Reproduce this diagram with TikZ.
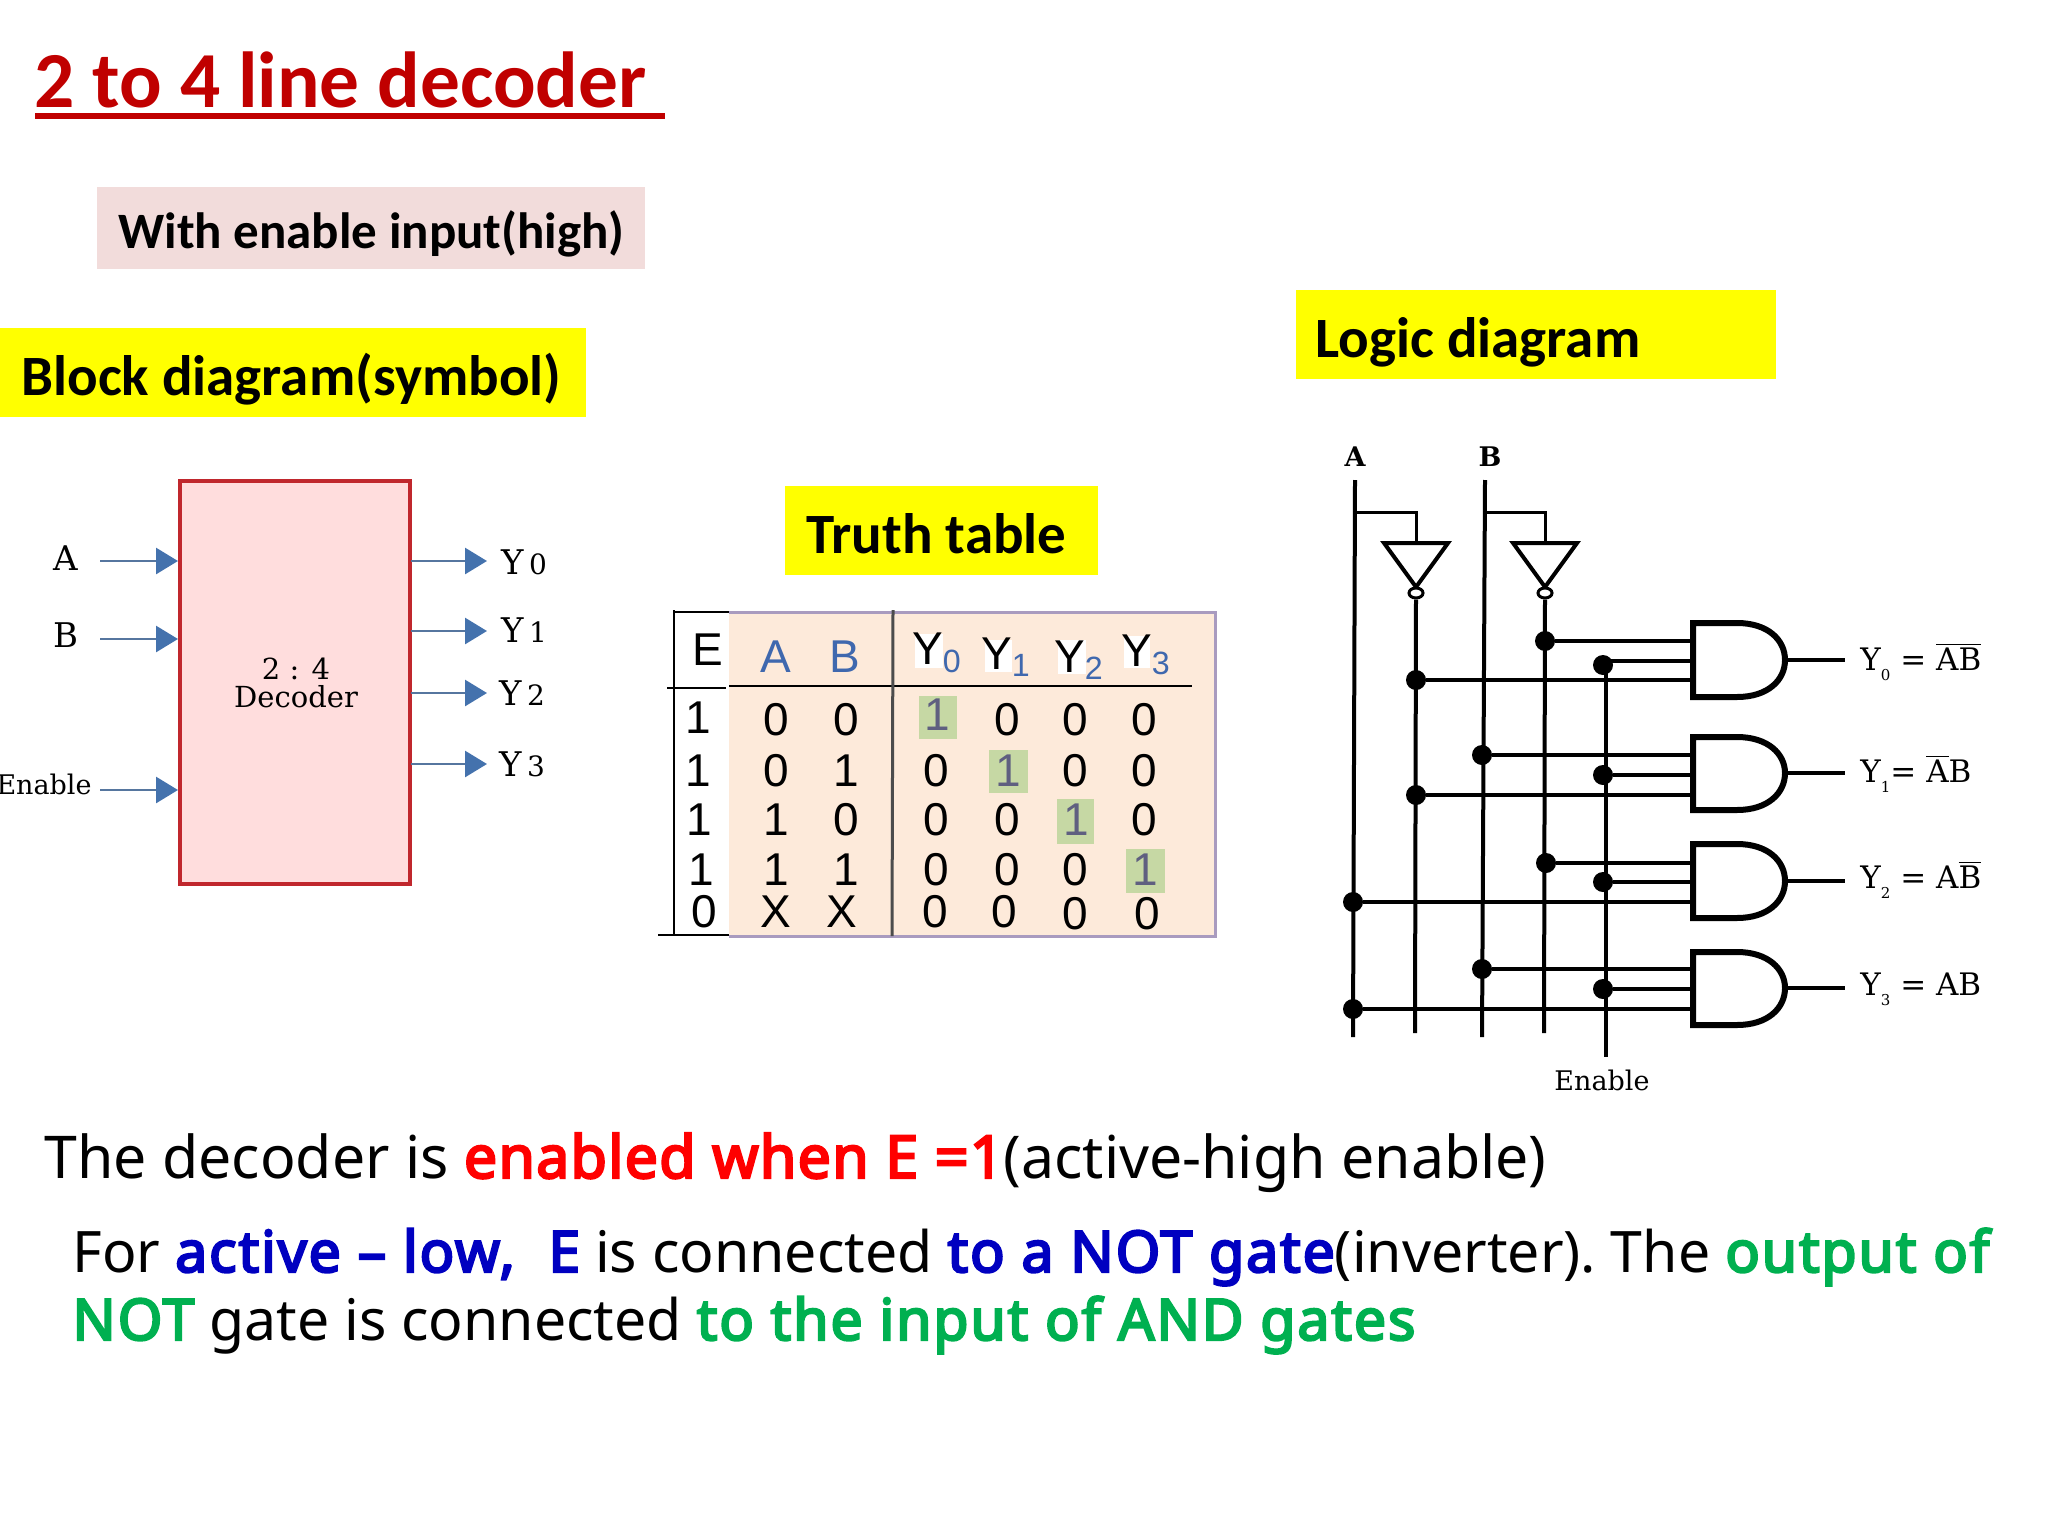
\documentclass[tikz,border=0pt]{standalone}
\usepackage{fontspec}
\setmainfont{Carlito}
\newfontfamily\bodyfont[BoldFont={Noto Sans},BoldFeatures={FakeBold=4,LetterSpace=2.2}]{Noto Sans}
\newfontfamily\notefont[BoldFont={Noto Sans},BoldFeatures={FakeBold=4,LetterSpace=3.3}]{Noto Sans}
\newfontfamily\tablefont{Liberation Sans}
\newfontfamily\schemfont{DejaVu Serif}
\usetikzlibrary{arrows.meta}
\usetikzlibrary{shapes.geometric}
\definecolor{titlered}{HTML}{C00000}
\definecolor{boxpink}{HTML}{F2DCDB}
\definecolor{capyellow}{HTML}{FFFF00}
\definecolor{blockfill}{HTML}{FFDDDD}
\definecolor{blockline}{HTML}{C0272D}
\definecolor{arrowblue}{HTML}{4472AD}
\definecolor{panelfill}{HTML}{FDEADA}
\definecolor{panelline}{HTML}{A99BBF}
\definecolor{hlgreen}{HTML}{C6D8A4}
\definecolor{headblue}{HTML}{3F68AE}
\definecolor{onegray}{HTML}{5F5F80}
\definecolor{textred}{HTML}{FF0000}
\definecolor{textblue}{HTML}{0000C0}
\definecolor{textgreen}{HTML}{00B050}
\tikzset{
	headtext/.style={anchor=base west,inner sep=0pt,font=\bfseries\fontsize{28.5}{34}\selectfont},
	bodytext/.style={anchor=base west,inner sep=0pt,font=\notefont\frenchspacing\fontsize{28.6}{36}\selectfont},
	schem/.style={inner sep=0pt,font=\schemfont\fontsize{13.5}{16}\selectfont},
	bigschem/.style={schem,font=\schemfont\fontsize{17}{20}\selectfont},
	eqn/.style={inner sep=0pt,anchor=base west,font=\schemfont\fontsize{15.5}{18}\selectfont},
	flow/.style={line width=1.4pt,color=arrowblue!70!gray,-{Triangle[length=11pt,width=13pt,color=arrowblue]}},
	cell/.style={inner sep=0pt,font=\tablefont\fontsize{23}{28}\selectfont},
	onecell/.style={cell,text=onegray},
	headcell/.style={cell,text=headblue},
	wire/.style={line width=2pt,line cap=butt},
	gatebody/.style={line width=3pt,line join=miter},
	dot/.style={circle,fill=black,inner sep=0pt,minimum size=10pt},
	bubble/.style={ellipse,draw=black,fill=white,line width=1.5pt,inner sep=0pt,minimum width=7pt,minimum height=5pt}
}
\begin{document}
\begin{tikzpicture}[x=0.5pt,y=-0.5pt]
	\useasboundingbox (0,0) rectangle (2048,1536);
	%title and captions
	\node[anchor=base west,inner sep=0pt,text=titlered,font=\bfseries\fontsize{39.7}{48}\selectfont] (title) at (34,108) {2 to 4 line decoder};
	\coordinate (ulstart) at (35,116);
	\coordinate (ulend) at (665,116);
	\draw[titlered,line width=2.5pt] (ulstart) -- (ulend);
	\fill[boxpink] (97,187) rectangle (645,269);
	\node[headtext,font=\bfseries\fontsize{25.5}{32}\selectfont] (withenable) at (118,248) {With enable input(high)};
	\fill[capyellow] (0,328) rectangle (586,417);
	\node[headtext] (blockcap) at (21,395) {Block diagram(symbol)};
	\fill[capyellow] (785,486) rectangle (1098,575);
	\node[headtext] (tablecap) at (806,553) {Truth table};
	\fill[capyellow] (1296,290) rectangle (1776,379);
	\node[headtext] (logiccap) at (1315,357) {Logic diagram};

	%block diagram
	\node[draw=blockline,fill=blockfill,line width=2.2pt,minimum width=115pt,minimum height=201.5pt,inner sep=0pt] (decoder) at (295,682.5) {};
	\node[schem,align=center,font=\schemfont\fontsize{14.5}{16}\selectfont] (decodertext) at (296,683) {2 : 4\\[-2pt]Decoder};
	\node[bigschem] (inA) at (66,558) {A};
	\node[bigschem] (inB) at (66,635) {B};
	\node[schem,anchor=east] (inE) at (92,784) {Enable};
	\node[bigschem] (outY0) at (524,562) {Y\,{\fontsize{14}{16}\selectfont 0}};
	\node[bigschem] (outY1) at (524,630) {Y\,{\fontsize{14}{16}\selectfont 1}};
	\node[bigschem] (outY2) at (522,693) {Y\,{\fontsize{14}{16}\selectfont 2}};
	\node[bigschem] (outY3) at (522,764) {Y\,{\fontsize{14}{16}\selectfont 3}};
	\draw[flow] (100,561) -- (178,561);
	\draw[flow] (100,639) -- (178,639);
	\draw[flow] (100,790) -- (178,790);
	\draw[flow] (411,561) -- (487,561);
	\draw[flow] (411,631) -- (487,631);
	\draw[flow] (411,693) -- (487,693);
	\draw[flow] (411,764) -- (487,764);

	%truth table
	\fill[panelfill] (729,612) rectangle (1215,936);
	\draw[panelline,line width=1.5pt] (729,612) -- (1215,612) -- (1215,936) -- (729,936);
	\fill[white] (915,634) rectangle (943,668);
	\fill[white] (985,640) rectangle (1012,672);
	\fill[white] (1058,640) rectangle (1086,674);
	\fill[white] (1124,636) rectangle (1150,668);
	\fill[hlgreen] (919,696) rectangle (957,739);
	\fill[hlgreen] (989,750) rectangle (1028,793);
	\fill[hlgreen] (1057,799) rectangle (1094,844);
	\fill[hlgreen] (1126,849) rectangle (1165,893);
	\draw[line width=1.2pt] (674,610) -- (674,935);
	\draw[line width=1.2pt] (674,612) -- (729,612);
	\draw[line width=1.2pt] (667,688) -- (726,688);
	\draw[line width=1.2pt] (658,935) -- (729,935);
	\draw[line width=1.2pt] (729,686) -- (1192,686);
	\draw[black!70,line width=1.5pt] (893,610) -- (892,936);
	\node[cell] (headE) at (708,650) {E};
	\node[headcell] (headA) at (776,657) {A};
	\node[headcell] (headB) at (845,657) {B};
	\node[cell] (headY0) at (937,653) {Y\textsubscript{\textcolor{headblue}{0}}};
	\node[cell] (headY1) at (1006,657) {Y\textsubscript{\textcolor{headblue}{1}}};
	\node[cell] (headY2) at (1079,660) {Y\textsubscript{\textcolor{headblue}{2}}};
	\node[cell] (headY3) at (1146,655) {Y\textsubscript{\textcolor{headblue}{3}}};
	%row 1
	\begin{scope}[shift={(0,718)}]
		\node[cell] (r0e) at (698,0) {1};
		\node[cell] (r0a) at (776,2) {0};
		\node[cell] (r0b) at (846,2) {0};
		\node[onecell] (r0y0) at (937,-3) {1};
		\node[cell] (r0y1) at (1007,2) {0};
		\node[cell] (r0y2) at (1075,2) {0};
		\node[cell] (r0y3) at (1144,2) {0};
	\end{scope}
	%row 2
	\begin{scope}[shift={(0,771)}]
		\node[cell] (r1e) at (698,0) {1};
		\node[cell] (r1a) at (776,0) {0};
		\node[cell] (r1b) at (846,0) {1};
		\node[cell] (r1y0) at (936,0) {0};
		\node[onecell] (r1y1) at (1008,0) {1};
		\node[cell] (r1y2) at (1075,0) {0};
		\node[cell] (r1y3) at (1144,0) {0};
	\end{scope}
	%row 3
	\begin{scope}[shift={(0,820)}]
		\node[cell] (r2e) at (699,0) {1};
		\node[cell] (r2a) at (776,0) {1};
		\node[cell] (r2b) at (846,0) {0};
		\node[cell] (r2y0) at (936,0) {0};
		\node[cell] (r2y1) at (1007,0) {0};
		\node[onecell] (r2y2) at (1076,0) {1};
		\node[cell] (r2y3) at (1144,0) {0};
	\end{scope}
	%row 4
	\begin{scope}[shift={(0,870)}]
		\node[cell] (r3e) at (701,0) {1};
		\node[cell] (r3a) at (776,0) {1};
		\node[cell] (r3b) at (846,0) {1};
		\node[cell] (r3y0) at (936,0) {0};
		\node[cell] (r3y1) at (1007,0) {0};
		\node[cell] (r3y2) at (1075,0) {0};
		\node[onecell] (r3y3) at (1145,0) {1};
	\end{scope}
	%row 5
	\begin{scope}[shift={(0,912)}]
		\node[cell] (r4e) at (704,0) {0};
		\node[cell] (r4a) at (776,0) {X};
		\node[cell] (r4b) at (842,0) {X};
		\node[cell] (r4y0) at (935,0) {0};
		\node[cell] (r4y1) at (1004,0) {0};
		\node[cell] (r4y2) at (1075,2) {0};
		\node[cell] (r4y3) at (1147,2) {0};
	\end{scope}

	%logic diagram inputs
	\node[schem,font=\schemfont\bfseries\fontsize{13.5}{15}\selectfont] (logicA) at (1355,457) {A};
	\node[schem,font=\schemfont\bfseries\fontsize{13.5}{15}\selectfont] (logicB) at (1490,457) {B};
	\node[schem] (logicE) at (1602,1080) {Enable};
	\coordinate (Atop) at (1355,480);
	\coordinate (Abot) at (1353,1037);
	\coordinate (Btop) at (1485,480);
	\coordinate (Bbot) at (1482,1037);
	\coordinate (Ebot) at (1606,1057);
	\coordinate (Nabot) at (1415,1033);
	\coordinate (Nbbot) at (1544,1033);
	\coordinate (Abr) at (1354,512);
	\coordinate (Bbr) at (1485,512);
	\coordinate (Aturn) at (1416,512);
	\coordinate (Bturn) at (1545,512);
	\coordinate (Ain) at (1416,543);
	\coordinate (Bin) at (1545,543);
	\draw[wire] (Atop) -- (Abot);
	\draw[wire] (Btop) -- (Bbot);
	\draw[wire,line width=1.5pt] (Abr) -- (Aturn) -- (Ain);
	\draw[wire,line width=1.5pt] (Bbr) -- (Bturn) -- (Bin);
	%inverters
	\draw[line width=2pt,line join=miter] (1384,543) -- (1448,543) -- (1416,587) -- cycle;
	\draw[line width=2pt,line join=miter] (1513,543) -- (1577,543) -- (1545,587) -- cycle;
	\node[bubble] (Abub) at (1416,593) {};
	\node[bubble] (Bbub) at (1545,593) {};
	\draw[wire] (Abub) -- (Nabot);
	\draw[wire] (Bbub) -- (Nbbot);

	%gate 1
	\draw[gatebody] (1693,623) -- (1737,623) .. controls (1768,623) and (1785,640) .. (1785,660) .. controls (1785,680) and (1768,697) .. (1737,697) -- (1693,697) -- cycle;
	\coordinate (g0a) at (1693,641);
	\coordinate (g0b) at (1693,661);
	\coordinate (g0c) at (1693,680);
	\coordinate (g0in) at (1785,660);
	\coordinate (g0out) at (1845,660);
	\node[dot] (d0a) at (1545,641) {};
	\node[dot] (d0b) at (1603,665) {};
	\node[dot] (d0c) at (1416,680) {};
	\coordinate (d0bw) at (1603,661);
	\coordinate (Etop) at (1606,665);
	\draw[wire] (d0a) -- (g0a);
	\draw[wire] (d0bw) -- (g0b);
	\draw[wire] (d0c) -- (g0c);
	\draw[wire] (g0in) -- (g0out);
	\draw[wire] (Etop) -- (Ebot);
	%gate 2
	\draw[gatebody] (1693,737) -- (1737,737) .. controls (1768,737) and (1785,754) .. (1785,773) .. controls (1785,793) and (1768,810) .. (1737,810) -- (1693,810) -- cycle;
	\coordinate (g1a) at (1693,755);
	\coordinate (g1b) at (1693,775);
	\coordinate (g1c) at (1693,795);
	\coordinate (g1in) at (1785,773);
	\coordinate (g1out) at (1845,773);
	\node[dot] (d1a) at (1482,755) {};
	\node[dot] (d1b) at (1603,775) {};
	\node[dot] (d1c) at (1416,795) {};
	\draw[wire] (d1a) -- (g1a);
	\draw[wire] (d1b) -- (g1b);
	\draw[wire] (d1c) -- (g1c);
	\draw[wire] (g1in) -- (g1out);
	%gate 3
	\draw[gatebody] (1693,844) -- (1737,844) .. controls (1768,844) and (1785,861) .. (1785,881) .. controls (1785,901) and (1768,918) .. (1737,918) -- (1693,918) -- cycle;
	\coordinate (g2a) at (1693,863);
	\coordinate (g2b) at (1693,882);
	\coordinate (g2c) at (1693,902);
	\coordinate (g2in) at (1785,881);
	\coordinate (g2out) at (1845,881);
	\node[dot] (d2a) at (1546,863) {};
	\node[dot] (d2b) at (1603,882) {};
	\node[dot] (d2c) at (1353,902) {};
	\draw[wire] (d2a) -- (g2a);
	\draw[wire] (d2b) -- (g2b);
	\draw[wire] (d2c) -- (g2c);
	\draw[wire] (g2in) -- (g2out);
	%gate 4
	\draw[gatebody] (1693,952) -- (1737,952) .. controls (1768,952) and (1785,969) .. (1785,988) .. controls (1785,1008) and (1768,1025) .. (1737,1025) -- (1693,1025) -- cycle;
	\coordinate (g3a) at (1693,969);
	\coordinate (g3b) at (1693,989);
	\coordinate (g3c) at (1693,1009);
	\coordinate (g3in) at (1785,988);
	\coordinate (g3out) at (1845,988);
	\node[dot] (d3a) at (1482,969) {};
	\node[dot] (d3b) at (1603,989) {};
	\node[dot] (d3c) at (1353,1009) {};
	\draw[wire] (d3a) -- (g3a);
	\draw[wire] (d3b) -- (g3b);
	\draw[wire] (d3c) -- (g3c);
	\draw[wire] (g3in) -- (g3out);
	%output equations
	\node[eqn] (eq0) at (1860,670) {Y\raisebox{-5pt}{\fontsize{7.5}{8}\selectfont 0} = $\overline{\mbox{AB}}$};
	\node[eqn] (eq1) at (1860,782) {Y\raisebox{-5pt}{\fontsize{7.5}{8}\selectfont 1}= $\overline{\mbox{A}}$B};
	\node[eqn] (eq2) at (1860,888) {Y\raisebox{-5pt}{\fontsize{7.5}{8}\selectfont 2} = A$\overline{\mbox{B}}$};
	\node[eqn] (eq3) at (1860,995) {Y\raisebox{-5pt}{\fontsize{7.5}{8}\selectfont 3} = AB};

	%bottom text
	\node[bodytext,font=\bodyfont\fontsize{29.5}{36}\selectfont] (line1) at (44,1178) {The decoder is {\bfseries\color{textred}enabled when E =1}(active-high enable)};
	\node[bodytext] (line2) at (72,1272) {For {\bfseries\color{textblue}active – low,\ \ E} is connected {\bfseries\color{textblue}to a NOT gate}(inverter). The {\bfseries\color{textgreen}output of}};
	\node[bodytext] (line3) at (72,1340) {{\bfseries\color{textgreen}NOT} gate is connected {\bfseries\color{textgreen}to the input of AND gates}};
\end{tikzpicture}
\end{document}
